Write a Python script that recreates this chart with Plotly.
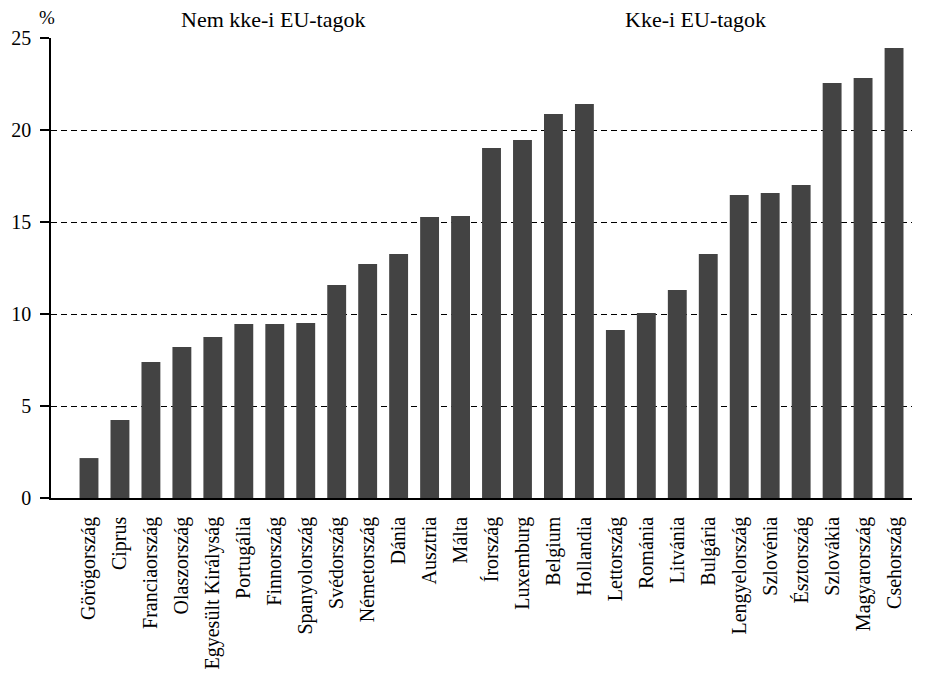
import plotly.graph_objects as go

countries = ["Görögország", "Ciprus", "Franciaország", "Olaszország", "Egyesült Királyság",
             "Portugália", "Finnország", "Spanyolország", "Svédország", "Németország", "Dánia",
             "Ausztria", "Málta", "Írország", "Luxemburg", "Belgium", "Hollandia",
             "Lettország", "Románia", "Litvánia", "Bulgária", "Lengyelország", "Szlovénia",
             "Észtország", "Szlovákia", "Magyarország", "Csehország"]
values = [2.17, 4.24, 7.39, 8.21, 8.75, 9.46, 9.46, 9.51, 11.58, 12.72, 13.26,
          15.27, 15.33, 19.02, 19.46, 20.87, 21.41,
          9.13, 10.05, 11.3, 13.26, 16.47, 16.58, 17.01, 22.55, 22.83, 24.46]
y_ticks = [0, 5, 10, 15, 20, 25]
group_titles = ["Nem kke-i EU-tagok", "Kke-i EU-tagok"]
unit_label = "%"

FONT = "Liberation Serif"

fig = go.Figure(go.Bar(x=countries, y=values, marker=dict(color="#434343", line=dict(width=0)),
                       width=0.61))

fig.update_layout(
    width=920, height=670,
    margin=dict(l=43, r=16, t=30, b=180, autoexpand=False),
    plot_bgcolor="white", paper_bgcolor="white",
    showlegend=False,
    font=dict(family=FONT, color="black"),
)
fig.update_xaxes(
    type="category", range=[-1.227, 26.58], automargin=False,
    showline=True, linecolor="black", linewidth=1.5,
    ticks="outside", ticklen=9, tickcolor="rgba(0,0,0,0)",
    tickangle=-90, tickfont=dict(family=FONT, size=20, color="black"),
    showgrid=False, zeroline=False,
)
fig.update_yaxes(
    range=[0, 25], tickvals=y_ticks, automargin=False,
    showline=True, linecolor="black", linewidth=1.5,
    ticks="outside", ticklen=9, tickcolor="black", tickwidth=1.5,
    ticklabelstandoff=5,
    tickfont=dict(family=FONT, size=20, color="black"),
    showgrid=True, gridcolor="black", gridwidth=1.2, griddash="6px,4px",
    zeroline=False,
)

fig.add_annotation(text=unit_label, xref="paper", yref="paper", x=-0.0046, y=1.0435,
                   xanchor="center", yanchor="middle",
                   showarrow=False, font=dict(family=FONT, size=19, color="black"))
fig.add_annotation(text=group_titles[0], xref="paper", yref="paper", x=0.259, y=1.041,
                   xanchor="center", yanchor="middle",
                   showarrow=False, font=dict(family=FONT, size=22, color="black"))
fig.add_annotation(text=group_titles[1], xref="paper", yref="paper", x=0.748, y=1.041,
                   xanchor="center", yanchor="middle",
                   showarrow=False, font=dict(family=FONT, size=22, color="black"))

fig.write_html("out.html")
